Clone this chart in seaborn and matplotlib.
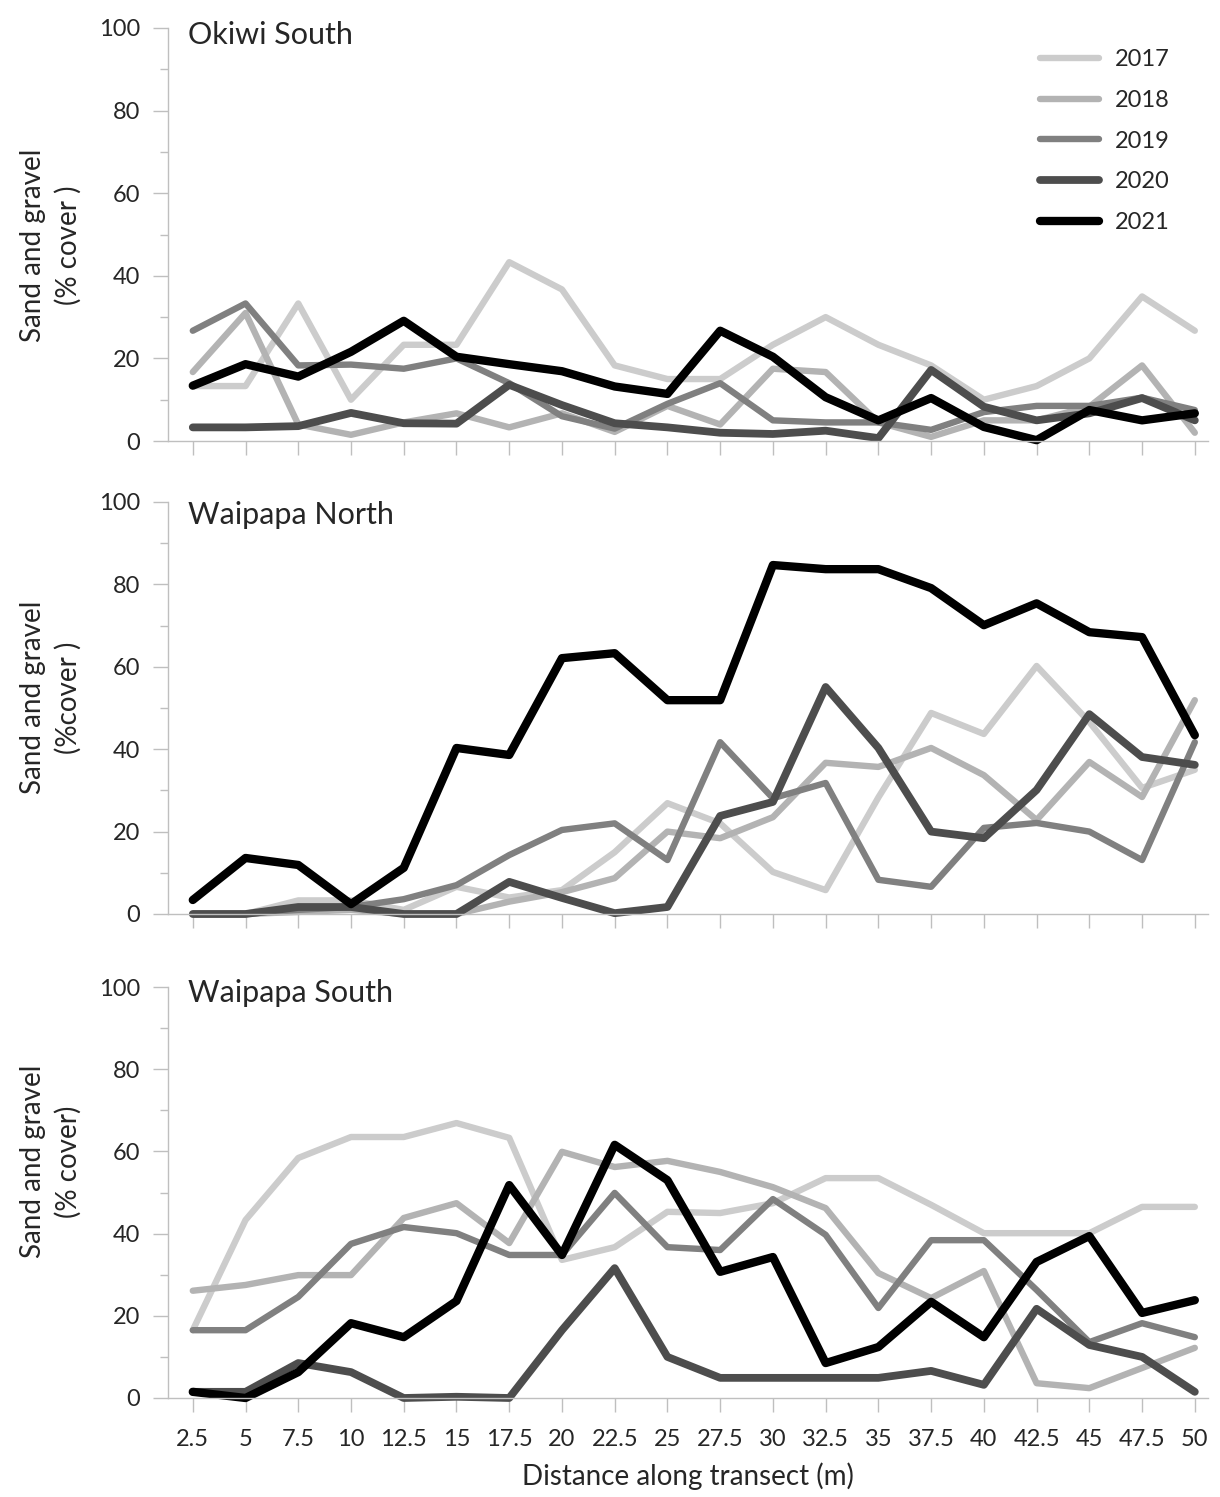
import numpy as np
import pandas as pd
import matplotlib
matplotlib.use("Agg")
import matplotlib.pyplot as plt
from matplotlib.lines import Line2D
from matplotlib.ticker import MultipleLocator
import seaborn as sns

sns.set_theme(style="white")
plt.rcParams['font.family'] = ['Lato', 'DejaVu Sans']

x_labels = ['2.5', '5', '7.5', '10', '12.5', '15', '17.5', '20', '22.5', '25',
            '27.5', '30', '32.5', '35', '37.5', '40', '42.5', '45', '47.5', '50']
years = ['2017', '2018', '2019', '2020', '2021']
sites = ['Okiwi South', 'Waipapa North', 'Waipapa South']
ylabels = ['Sand and gravel\n(% cover )', 'Sand and gravel\n(%cover )', 'Sand and gravel\n(% cover)']

os_2017 = [13.3, 13.3, 33.3, 10, 23.3, 23.3, 43.3, 36.7, 18.3, 15, 15, 23.3, 30, 23.3, 18.3, 10, 13.3, 20, 35, 26.7]
os_2018 = [16.7, 31, 4, 1.5, 4.5, 6.7, 3.3, 6.7, 2.2, 8.5, 4, 17.5, 16.7, 4.5, 1, 5, 5, 8.3, 18.3, 2]
os_2019 = [26.7, 33.3, 18.3, 18.5, 17.5, 20, 14, 6, 3, 9, 14, 5, 4.5, 4.5, 2.7, 7, 8.5, 8.5, 10.5, 7.5]
os_2020 = [3.3, 3.3, 3.6, 6.8, 4.3, 4.2, 13.6, 8.7, 4.3, 3.3, 2, 1.7, 2.5, 0.7, 17.2, 8.3, 5, 6.7, 10.4, 5]
os_2021 = [13.4, 18.6, 15.6, 21.6, 29.1, 20.4, 18.6, 16.9, 13.2, 11.4, 26.7, 20.4, 10.6, 5, 10.4, 3.4, 0.2, 7.5, 5, 6.7]

wn_2017 = [0, 0, 3.3, 3.3, 1, 6.6, 4, 5.8, 15, 26.9, 22, 10.2, 5.8, 28.3, 48.8, 43.7, 60.2, 46.6, 30.6, 35]
wn_2018 = [0, 0, 0.5, 1, 0, 0, 3, 5.3, 8.7, 20, 18.4, 23.5, 36.7, 35.7, 40.3, 33.7, 22.8, 36.9, 28.4, 51.9]
wn_2019 = [0, 0, 1, 1.7, 3.6, 7, 14.3, 20.4, 22, 13.1, 41.7, 28.1, 31.8, 8.3, 6.6, 20.9, 22.1, 20, 13.1, 41.7]
wn_2020 = [0, 0, 1.7, 1.7, 0, 0, 7.8, 3.9, 0.2, 1.7, 23.8, 27.2, 55.1, 40.3, 20, 18.4, 30.1, 48.5, 38.1, 36.2]
wn_2021 = [3.4, 13.6, 11.9, 2.4, 11.2, 40.3, 38.6, 62.1, 63.3, 51.9, 51.9, 84.7, 83.7, 83.7, 79.1, 70.1, 75.4, 68.4, 67.2, 43.4]

ws_2017 = [16.5, 43.3, 58.4, 63.5, 63.5, 66.9, 63.3, 33.6, 36.7, 45.3, 45, 47.4, 53.5, 53.5, 47, 40.1, 40.1, 40.1, 46.5, 46.5]
ws_2018 = [26.1, 27.5, 29.9, 29.9, 43.8, 47.4, 37.7, 59.9, 56.2, 57.7, 55, 51.3, 46.2, 30.4, 24.3, 30.9, 3.6, 2.4, 7.3, 12.2]
ws_2019 = [16.5, 16.5, 24.6, 37.5, 41.6, 40.1, 34.8, 34.8, 49.9, 36.7, 36, 48.4, 39.7, 21.9, 38.4, 38.4, 26.3, 13.6, 18.2, 14.8]
ws_2020 = [1.5, 1.5, 8.5, 6.3, 0, 0.3, 0, 16.5, 31.6, 10, 4.9, 4.9, 4.9, 4.9, 6.6, 3.2, 21.7, 12.9, 10, 1.5]
ws_2021 = [1.5, 0, 6.3, 18.2, 14.8, 23.6, 51.8, 34.8, 61.6, 53, 30.7, 34.3, 8.5, 12.4, 23.4, 14.8, 33.1, 39.4, 20.7, 23.8]

site_data = {
    'Okiwi South': [os_2017, os_2018, os_2019, os_2020, os_2021],
    'Waipapa North': [wn_2017, wn_2018, wn_2019, wn_2020, wn_2021],
    'Waipapa South': [ws_2017, ws_2018, ws_2019, ws_2020, ws_2021],
}

palette = {'2017': '#cccccc', '2018': '#b3b3b3', '2019': '#808080', '2020': '#4d4d4d', '2021': '#000000'}
widths = {'2017': 4.6, '2018': 4.6, '2019': 4.6, '2020': 5.6, '2021': 6.0}

rows = []
for site in sites:
    for yr, vals in zip(years, site_data[site]):
        for i, v in enumerate(vals):
            rows.append({'site': site, 'Year': yr, 'pos': i, 'cover': v})
df = pd.DataFrame(rows)

fig = plt.figure(figsize=(12.2, 14.97), dpi=100)
W, H = 1220, 1497
panels = [(28, 441), (502, 914), (987, 1398)]
left_px, right_px = 168, 1208
title_y = [0.983, 0.968, 0.985]
ylab_y = [0.475, 0.525, 0.575]
axis_col = '#bfbfbf'
fs = 17
lfs = 20

for k, site in enumerate(sites):
    top, bot = panels[k]
    ax = fig.add_axes([left_px / W, 1 - bot / H, (right_px - left_px) / W, (bot - top) / H])
    sub = df[df['site'] == site]
    sns.lineplot(data=sub, x='pos', y='cover', hue='Year', size='Year',
                 hue_order=years, size_order=years, palette=palette, sizes=widths,
                 legend=False, ax=ax, sort=False)
    for ln in ax.get_lines():
        ln.set_solid_capstyle('round')
        ln.set_solid_joinstyle('round')
        ln.set_clip_on(False)
    ax.set_ylim(0, 100)
    ax.set_xlim(-0.47, 19.25)
    ax.set_xticks(range(len(x_labels)))
    if k == 2:
        ax.set_xticklabels(x_labels)
        ax.set_xlabel('Distance along transect (m)', fontsize=lfs, labelpad=9)
    else:
        ax.set_xticklabels([''] * len(x_labels))
        ax.set_xlabel('')
    ax.yaxis.set_major_locator(MultipleLocator(20))
    ax.yaxis.set_minor_locator(MultipleLocator(10))
    ax.tick_params(axis='x', which='major', length=10, width=1, color=axis_col,
                   direction='out', labelsize=fs, pad=12, bottom=True)
    ax.tick_params(axis='y', which='major', length=11, width=1, color=axis_col,
                   direction='out', labelsize=fs, pad=9, left=True)
    ax.tick_params(axis='y', which='minor', length=6, width=1, color=axis_col,
                   direction='out', left=True)
    for s in ['top', 'right']:
        ax.spines[s].set_visible(False)
    for s in ['left', 'bottom']:
        ax.spines[s].set_color(axis_col)
        ax.spines[s].set_linewidth(1)
    ax.set_ylabel(ylabels[k], fontsize=lfs, linespacing=1.4)
    ax.yaxis.set_label_coords(-0.083, ylab_y[k])
    ax.text(0.019, title_y[k], site, transform=ax.transAxes, fontsize=22,
            ha='left', va='center')
    ax.grid(False)
    if k == 0:
        handles = [Line2D([0], [0], color=palette[y], lw=widths[y], solid_capstyle='round')
                   for y in years]
        ax.legend(handles, years, loc='upper left', bbox_to_anchor=(0.838, 0.948),
                  frameon=False, fontsize=fs, handlelength=2.5, handletextpad=0.7,
                  labelspacing=0.83, borderpad=0, borderaxespad=0)

fig.savefig('out.png', dpi=100)
